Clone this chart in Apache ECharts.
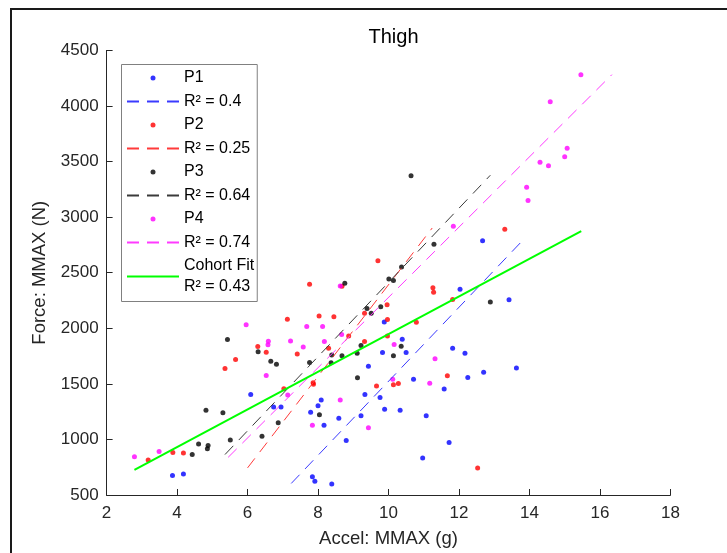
<!DOCTYPE html>
<html>
<head>
<meta charset="utf-8">
<script src="https://cdn.jsdelivr.net/npm/echarts@6/dist/echarts.min.js"></script>
<style>
html,body{margin:0;padding:0;background:#fff;}
#c{width:727px;height:553px;}
</style>
</head>
<body>
<div id="c"></div>
<script>
// ---- data ----
const p1x = [3.87,4.18,6.09,6.74,6.95,7.79,7.84,7.91,8.0,8.09,8.17,8.39,8.59,8.80,9.22,9.33,9.43,9.76,9.83,9.88,9.89,10.33,10.39,10.5,10.71,10.97,11.07,11.58,11.72,11.82,12.03,12.17,12.25,12.67,12.70,13.42,13.63];
const p1y = [675,690,1405,1291,1291,1244,665,623,1304,1354,1127,598,1190,991,1212,1405,1658,1377,1782,2057,1272,1263,1902,1782,1541,832,1212,1453,972,1820,2351,1775,1557,2788,1604,2256,1642];

const p2x = [3.18,3.88,4.18,5.36,5.66,6.29,6.53,7.03,7.13,7.41,7.76,7.86,7.87,8.03,8.30,8.45,8.68,8.87,9.32,9.32,9.66,9.70,9.97,9.97,9.96,10.14,10.28,10.79,11.26,11.28,11.67,11.82,12.53,13.30];
const p2y = [816,883,877,1639,1718,1835,1785,1456,2082,1769,2396,1509,1497,2111,1820,2104,2377,1930,2136,1880,1481,2608,2079,1930,2212,1491,1503,2054,2364,2323,1573,2259,744,2892];

const p3x = [4.43,4.61,4.82,4.86,4.88,5.30,5.43,5.51,6.30,6.41,6.66,6.82,6.87,7.76,8.04,8.37,8.39,8.68,8.76,9.12,9.11,9.22,9.39,9.51,9.78,10.01,10.14,10.14,10.36,10.37,10.64,11.29,12.89];
const p3y = [864,959,1263,915,946,1241,1899,994,1788,1028,1703,1677,1149,1693,1222,1690,1759,1753,2405,1554,1775,1845,2177,2136,2193,2443,2430,1753,1839,2551,3373,2756,2237];

const p4x = [2.79,3.49,5.96,6.53,6.58,6.59,7.14,7.22,7.58,7.68,7.84,8.13,8.18,8.63,8.63,8.67,9.43,10.12,10.16,11.17,11.32,11.84,13.92,13.96,14.30,14.54,14.59,15.0,15.07,15.46];
const p4y = [845,892,2032,1576,1851,1883,1399,1886,1832,2016,1127,2016,1880,1354,2380,1943,1104,1541,1854,1506,1725,2918,3269,3149,3494,3462,4038,3544,3620,4282];

// fitted lines: end points [x0,x1], [y0,y1]
const fit1x = [7.24,13.80];  const fit1y = [604,2788];
const fit2x = [6.00,11.24];  const fit2y = [744,2902];
const fit3x = [5.36,12.89];  const fit3y = [864,3377];
const fit4x = [5.45,16.34];  const fit4y = [839,4282];
const cohortX = [2.79,15.47]; const cohortY = [725,2873];

const groupNames = ['P1','P2','P3','P4'];
const fitNames = ['R\u00b2 = 0.4','R\u00b2 = 0.25','R\u00b2 = 0.64','R\u00b2 = 0.74'];
const cohortName = 'Cohort Fit';
const cohortR2 = 'R\u00b2 = 0.43';

const xMin = 2, xMax = 18, xStep = 2;
const yMin = 500, yMax = 4500, yStep = 500;

// ---- build ----
const pts = (xs, ys) => xs.map((x, i) => [x, ys[i]]);
const dotColors = ['#0000ff','#ff0000','#000000','#ff00ff'];
const fitColors = ['#3a3aff','#ff3a3a','#3a3a3a','#ff3aff'];
const scatterData = [pts(p1x,p1y), pts(p2x,p2y), pts(p3x,p3y), pts(p4x,p4y)];
const fitData = [pts(fit1x,fit1y), pts(fit2x,fit2y), pts(fit3x,fit3y), pts(fit4x,fit4y)];
const noFill = { color: 'rgba(0,0,0,0)', borderWidth: 0 };

const series = [];
const legendData = [];
for (let i = 0; i < 4; i++) {
  series.push({
    type: 'scatter', name: groupNames[i], data: scatterData[i],
    symbol: 'circle', symbolSize: 5,
    itemStyle: { color: dotColors[i] }, silent: true
  });
  series.push({
    type: 'line', name: fitNames[i], data: fitData[i],
    symbol: 'none', showSymbol: false,
    lineStyle: { color: fitColors[i], width: 1, type: [12, 8] },
    itemStyle: { color: fitColors[i] }, silent: true
  });
  legendData.push({ name: groupNames[i], icon: 'circle' });
  legendData.push({ name: fitNames[i], itemStyle: noFill });
}
series.push({
  type: 'line', name: cohortName, data: pts(cohortX, cohortY),
  symbol: 'none', showSymbol: false,
  lineStyle: { color: '#00ff00', width: 2, type: 'solid' },
  itemStyle: { color: '#00ff00' }, silent: true
});
legendData.push({ name: cohortName, itemStyle: noFill });

const FONT = 'Liberation Sans, Arial, Helvetica, sans-serif';
const TXT = '#262626';

const chart = echarts.init(document.getElementById('c'), null, { renderer: 'canvas' });
chart.setOption({
  animation: false,
  backgroundColor: '#ffffff',
  textStyle: { fontFamily: FONT },
  title: {
    text: 'Thigh', left: 388.5, top: 22, textAlign: 'center',
    textStyle: { fontFamily: FONT, fontSize: 20, fontWeight: 'normal', color: '#000' }
  },
  grid: { left: 106.6, right: 56.6, top: 50.4, bottom: 56.7, containLabel: false },
  xAxis: {
    type: 'value', min: xMin, max: xMax, interval: xStep,
    name: 'Accel: MMAX (g)', nameLocation: 'middle', nameGap: 34,
    nameTextStyle: { fontFamily: FONT, fontSize: 18.5, color: TXT },
    axisLine: { show: true, lineStyle: { color: TXT, width: 1 } },
    axisTick: { show: true, inside: true, length: 6, lineStyle: { color: TXT } },
    axisLabel: { margin: 10, fontFamily: FONT, fontSize: 17, color: TXT,
                 formatter: function (v) { return String(v); } },
    splitLine: { show: false }
  },
  yAxis: {
    type: 'value', min: yMin, max: yMax, interval: yStep,
    name: 'Force: MMAX (N)', nameLocation: 'middle', nameGap: 53,
    nameTextStyle: { fontFamily: FONT, fontSize: 18.5, color: TXT },
    axisLine: { show: true, lineStyle: { color: TXT, width: 1 } },
    axisTick: { show: true, inside: true, length: 6, lineStyle: { color: TXT } },
    axisLabel: { margin: 8, fontFamily: FONT, fontSize: 17, color: TXT,
                 formatter: function (v) { return String(v); } },
    splitLine: { show: false }
  },
  legend: {
    orient: 'vertical', left: 121.5, top: 64.5,
    padding: [3, 3, 4, 4.5],
    itemWidth: 52, itemHeight: 5, itemGap: 2.5,
    backgroundColor: '#ffffff', borderColor: '#808080', borderWidth: 1,
    selectedMode: false,
    textStyle: { fontFamily: FONT, fontSize: 16, color: '#000', lineHeight: 21 },
    formatter: function (n) { return n === cohortName ? (cohortName + '\n' + cohortR2) : n; },
    data: legendData
  },
  graphic: [{
    type: 'rect', silent: true, z: -10,
    shape: { x: 11, y: 9, width: 800, height: 700 },
    style: { fill: 'none', stroke: '#1a1a1a', lineWidth: 2 }
  }],
  series: series
});
</script>
</body>
</html>
